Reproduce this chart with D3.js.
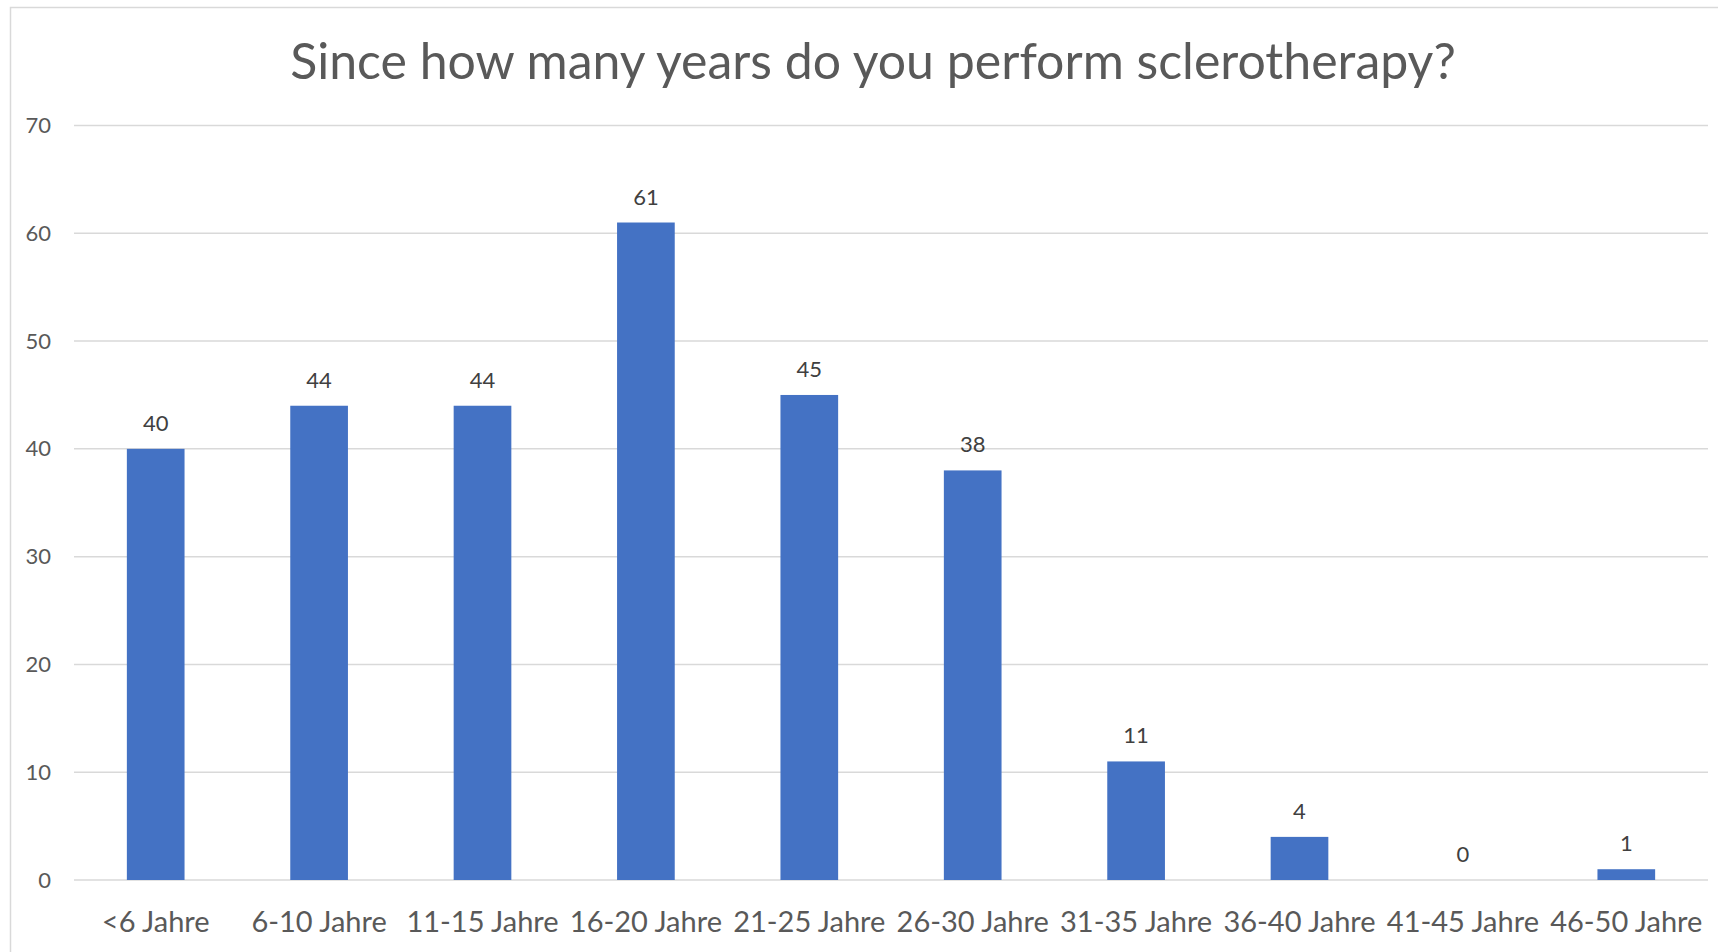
<!DOCTYPE html>
<html>
<head>
<meta charset="utf-8">
<script src="https://cdn.jsdelivr.net/npm/d3@7"></script>
<style>
  html, body { margin: 0; padding: 0; background: #fff; }
  svg { display: block; }
  text { font-family: Lato, "Open Sans", sans-serif; }
</style>
</head>
<body>
<svg id="chart" width="1718" height="952"></svg>
<script>
const categories = ["<6 Jahre", "6-10 Jahre", "11-15 Jahre", "16-20 Jahre", "21-25 Jahre",
                    "26-30 Jahre", "31-35 Jahre", "36-40 Jahre", "41-45 Jahre", "46-50 Jahre"];
const values = [40, 44, 44, 61, 45, 38, 11, 4, 0, 1];
const yTicks = [0, 10, 20, 30, 40, 50, 60, 70];
const title = "Since how many years do you perform sclerotherapy?";

const svg = d3.select("#chart");

// chart frame
svg.append("rect")
  .attr("x", 10.5).attr("y", 7.5)
  .attr("width", 1740).attr("height", 960)
  .attr("fill", "#fff").attr("stroke", "#D9D9D9").attr("stroke-width", 1.5);

const plot = { left: 74, right: 1708, top: 125.5, bottom: 880 };

const x = d3.scaleBand().domain(categories)
  .range([plot.left, plot.right]).paddingInner(0.647).paddingOuter(0.3235);
const y = d3.scaleLinear().domain([0, 70]).range([plot.bottom, plot.top]);

// gridlines
svg.append("g").selectAll("line").data(yTicks).join("line")
  .attr("x1", plot.left).attr("x2", plot.right)
  .attr("y1", d => y(d)).attr("y2", d => y(d))
  .attr("stroke", "#D9D9D9").attr("stroke-width", 1.5);

// y axis labels
const yAxis = d3.axisLeft(y).tickValues(yTicks).tickSize(0).tickPadding(0);
const gy = svg.append("g").attr("transform", `translate(${51},0)`).call(yAxis);
gy.select(".domain").remove();
gy.selectAll("text").attr("font-size", 22).attr("fill", "#595959")
  .attr("font-family", "Lato, 'Open Sans', sans-serif");

// bars
svg.append("g").selectAll("rect").data(values).join("rect")
  .attr("x", (d, i) => x(categories[i]))
  .attr("width", x.bandwidth())
  .attr("y", d => y(d))
  .attr("height", d => y(0) - y(d))
  .attr("fill", "#4472C4");

// data labels
svg.append("g").selectAll("text").data(values).join("text")
  .attr("x", (d, i) => x(categories[i]) + x.bandwidth() / 2)
  .attr("y", d => y(d) - 18)
  .attr("text-anchor", "middle")
  .attr("font-size", 22).attr("fill", "#404040")
  .text(d => d);

// x axis labels
const xAxis = d3.axisBottom(x).tickSize(0).tickPadding(0);
const gx = svg.append("g").attr("transform", `translate(0,${plot.bottom})`).call(xAxis);
gx.select(".domain").remove();
gx.selectAll("text").attr("font-size", 29).attr("fill", "#595959")
  .attr("font-family", "Lato, 'Open Sans', sans-serif")
  .attr("dy", null).attr("y", 52);

// title
svg.append("text")
  .attr("x", 873).attr("y", 79)
  .attr("text-anchor", "middle")
  .attr("font-size", 50).attr("fill", "#595959")
  .text(title);
</script>
</body>
</html>
